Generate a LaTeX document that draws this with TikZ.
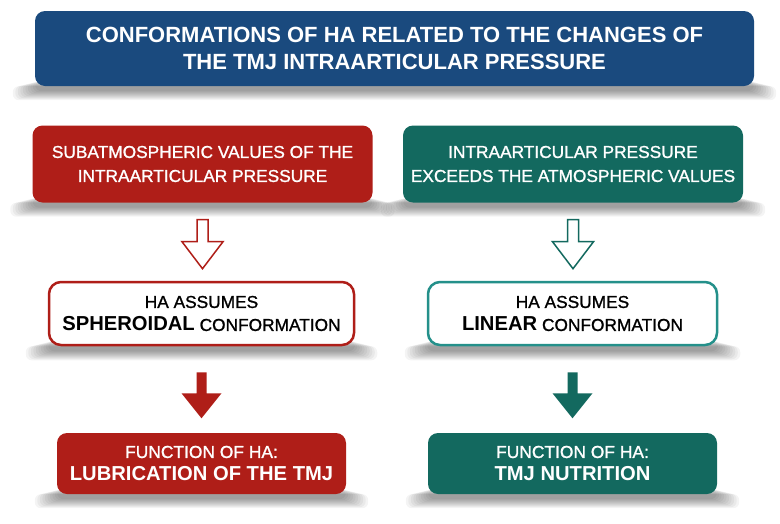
\documentclass[tikz,border=0pt]{standalone}
\usepackage{fontspec}
\setmainfont{Liberation Sans}
\newfontfamily\medfont[FakeBold=1.2]{Liberation Sans}
\usetikzlibrary{calc,backgrounds}
\definecolor{hablue}{HTML}{1A4A7E}
\definecolor{hared}{HTML}{AF1E18}
\definecolor{hateal}{HTML}{13695F}
\definecolor{hateallight}{HTML}{24908A}
\newcommand\boxshadow[1]{%
  \begin{pgfonlayer}{background}
    \foreach \i in {1,...,10}{%
      \fill[black,opacity=0.045,rounded corners=6pt]
        ($(#1.south west)+(3-2.5*\i,0.6*\i-6)$) rectangle ($(#1.south east)+(2.5*\i-3,4+\i)$);}
  \end{pgfonlayer}}
\begin{document}
\begin{tikzpicture}[x=1pt,y=-1pt,
  titlebox/.style={fill=hablue,rounded corners=10pt,minimum width=719pt,minimum height=75pt,
    inner sep=0pt,text=white,align=center,font=\fontsize{22}{27}\selectfont\bfseries},
  topbox/.style={fill=#1,rounded corners=10pt,minimum width=340pt,minimum height=77pt,
    inner sep=0pt,text=white,align=center,font=\fontsize{17.3}{24}\selectfont\medfont},
  midbox/.style={draw=#1,line width=2.5pt,fill=white,rounded corners=12pt,minimum height=63pt,
    inner sep=0pt,text=black,align=center,font=\fontsize{17.3}{23}\selectfont\medfont},
  funcbox/.style={fill=#1,rounded corners=10pt,minimum width=289pt,minimum height=61pt,
    inner sep=0pt,text=white,align=center,font=\fontsize{17.4}{23}\selectfont\medfont},
  hollowarrow/.style={draw=#1,line width=1.5pt,fill=white,line join=miter},
  solidarrow/.style={fill=#1}]
\useasboundingbox (0,0) rectangle (780,523);
\begin{pgfonlayer}{background}
\fill[white] (0,0) rectangle (780,523);
\end{pgfonlayer}

\node[titlebox] (title) at (394.5,48.5) {CONFORMATIONS OF HA RELATED TO THE CHANGES OF\\THE TMJ INTRAARTICULAR PRESSURE};
\boxshadow{title}

\node[topbox=hared] (sub) at (202.5,164) {SUBATMOSPHERIC VALUES OF THE\\INTRAARTICULAR PRESSURE};
\boxshadow{sub}
\node[topbox=hateal] (exc) at (573,164) {INTRAARTICULAR PRESSURE\\EXCEEDS THE ATMOSPHERIC VALUES};
\boxshadow{exc}

\node[midbox=hared,minimum width=305pt] (sph) at (201.5,313.5) {HA ASSUMES\\{\fontsize{20.2}{23}\selectfont\normalfont\bfseries SPHEROIDAL} CONFORMATION};
\boxshadow{sph}
\node[midbox=hateallight,minimum width=289pt] (lin) at (572.5,313.5) {HA ASSUMES\\{\fontsize{20.2}{23}\selectfont\normalfont\bfseries LINEAR} CONFORMATION};
\boxshadow{lin}

\node[funcbox=hared] (lub) at (201.5,463.5) {FUNCTION OF HA:\\{\fontsize{20.2}{23}\selectfont\normalfont\bfseries LUBRICATION OF THE TMJ}};
\boxshadow{lub}
\node[funcbox=hateal] (nut) at (572.5,463.5) {FUNCTION OF HA:\\{\fontsize{20.2}{23}\selectfont\normalfont\bfseries TMJ NUTRITION}};
\boxshadow{nut}

% hollow arrows
\draw[hollowarrow=hared] ($(sub.south)+(-5.5,17)$) -- ++(11,0) -- ++(0,22) -- ++(15,0)
  -- ++(-20.5,27) -- ++(-20.5,-27) -- ++(15,0) -- cycle;
\draw[hollowarrow=hateal] ($(exc.south)+(-5.5,17)$) -- ++(11,0) -- ++(0,22) -- ++(15,0)
  -- ++(-20.5,27) -- ++(-20.5,-27) -- ++(15,0) -- cycle;
% solid arrows
\fill[solidarrow=hared] ($(sph.south)+(-5,26)$) -- ++(10,0) -- ++(0,21) -- ++(15,0)
  -- ++(-20,25) -- ++(-20,-25) -- ++(15,0) -- cycle;
\fill[solidarrow=hateal] ($(lin.south)+(-5,26)$) -- ++(10,0) -- ++(0,21) -- ++(15,0)
  -- ++(-20,25) -- ++(-20,-25) -- ++(15,0) -- cycle;
\end{tikzpicture}
\end{document}
